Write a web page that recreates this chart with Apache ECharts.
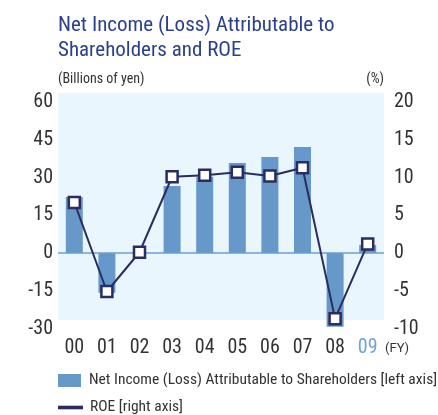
<!DOCTYPE html>
<html><head><meta charset="utf-8">
<script src="https://cdn.jsdelivr.net/npm/echarts@6/dist/echarts.min.js"></script>
<style>html,body{margin:0;padding:0;background:#fff}#c{width:438px;height:415px}</style>
</head><body><div id="c"></div>
<script>
var years = ['00','01','02','03','04','05','06','07','08','09'];
var netIncome = [22.3, -15.8, 0.3, 26.6, 30.3, 35.8, 38.1, 42.1, -29.3, 3.2];
var roe = [6.7, -5.1, 0.1, 10.1, 10.3, 10.7, 10.2, 11.3, -8.7, 1.2];
var leftTicks = [-30, 60, 15];
var rightTicks = [-10, 20, 5];
var seriesNames = ['Net Income (Loss) Attributable to Shareholders [left axis]', 'ROE [right axis]'];
var FONT = '"Roboto Condensed","Liberation Sans Narrow",sans-serif';
var NAVY = '#2b2c5f';
var BAR = '#6699c9';
var legendBase = {
  orient: 'horizontal', left: 58, padding: 0, itemWidth: 23, itemHeight: 13,
  textStyle: {fontFamily: FONT, fontSize: 15.5, color: '#333', padding: [0, 0, 0, 3]}
};
var chart = echarts.init(document.getElementById('c'));
chart.setOption({
  animation: false,
  textStyle: {fontFamily: FONT},
  grid: {left: 58, right: 54, top: 102, bottom: 86.5},
  graphic: [
    {type: 'rect', z: -10, shape: {x: 58, y: 93, width: 326, height: 227}, style: {fill: '#eaf6fd'}},
    {type: 'text', left: 58, top: 13, style: {text: 'Net Income (Loss) Attributable to\nShareholders and ROE', font: '21px ' + FONT, fill: '#2b418f', lineHeight: 25}},
    {type: 'text', left: 58, top: 72.5, style: {text: '(Billions of yen)', font: '14px ' + FONT, fill: '#333'}},
    {type: 'text', right: 54, top: 72.5, style: {text: '(%)', font: '14px ' + FONT, fill: '#333', textAlign: 'right'}},
    {type: 'text', left: 385, top: 342, style: {text: '(FY)', font: '13px Roboto, sans-serif', fill: '#333'}}
  ],
  legend: [
    Object.assign({}, legendBase, {top: 372.5, data: [{name: seriesNames[0], icon: 'rect'}]}),
    Object.assign({}, legendBase, {top: 399.5, data: [{name: seriesNames[1], icon: 'path://M0,6L23,6L23,7.6L0,7.6Z', itemStyle: {color: NAVY}}]})
  ],
  xAxis: {
    type: 'category',
    data: years.map(function (y, i) { return i === years.length - 1 ? {value: y, textStyle: {color: '#6fa3d6'}} : y; }),
    axisLine: {show: false, onZero: false},
    axisTick: {show: false},
    axisLabel: {fontSize: 20, color: '#333', margin: 9, fontFamily: FONT}
  },
  yAxis: [
    {type: 'value', min: leftTicks[0], max: leftTicks[1], interval: leftTicks[2],
     splitLine: {show: false}, axisLine: {show: false}, axisTick: {show: false},
     axisLabel: {fontSize: 20, color: '#333', margin: 5, fontFamily: FONT}},
    {type: 'value', min: rightTicks[0], max: rightTicks[1], interval: rightTicks[2],
     splitLine: {show: false}, axisLine: {show: false}, axisTick: {show: false},
     axisLabel: {fontSize: 20, color: '#333', margin: 10, fontFamily: FONT}}
  ],
  series: [
    {name: seriesNames[0], type: 'bar', yAxisIndex: 0,
     data: netIncome, barWidth: 17, itemStyle: {color: BAR},
     markLine: {silent: true, symbol: 'none', label: {show: false},
       lineStyle: {color: '#6a9fd0', width: 1.5, type: 'solid'}, data: [{yAxis: 0}]}},
    {name: seriesNames[1], type: 'line', yAxisIndex: 1, data: roe,
     symbol: 'rect', symbolSize: 11, z: 5,
     lineStyle: {color: NAVY, width: 2},
     itemStyle: {color: '#fff', borderColor: NAVY, borderWidth: 2.5}}
  ]
});
</script></body></html>
